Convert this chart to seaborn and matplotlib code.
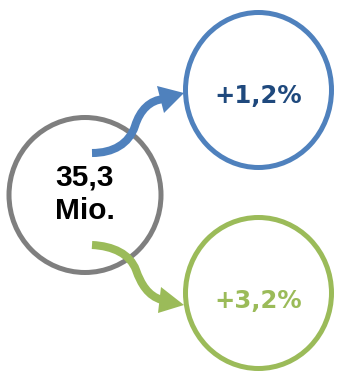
import numpy as np
import seaborn as sns
import matplotlib.pyplot as plt
from matplotlib.patches import Ellipse, PathPatch, Polygon
from matplotlib.path import Path

# data
total_value = 35.3
total_unit = "Mio."
growth_values = [1.2, 3.2]
growth_colors = ["#4F81BD", "#9BBB59"]
text_colors = ["#1F497D", "#9BBB59"]

def fmt_pct(v):
    return "+" + f"{v:.1f}".replace(".", ",") + "%"

sns.set_theme(style="white")
plt.rcParams["font.family"] = ["Liberation Sans", "DejaVu Sans"]
palette = sns.color_palette(growth_colors)

fig = plt.figure(figsize=(3.38, 3.71), dpi=100)
ax = fig.add_axes([0, 0, 1, 1])
ax.set_xlim(0, 338)
ax.set_ylim(371, 0)
ax.axis("off")

# layout (pixel space)
center_main = (85, 195)
size_main = (152, 155)
centers_out = [(258.5, 90), (258.5, 293)]
sizes_out = [(146, 155), (146, 151)]
text_y = [95, 300]

ax.add_patch(Ellipse(center_main, *size_main, fill=False, ec="#7F7F7F", lw=3.6))
ax.text(center_main[0], 178, f"{total_value:.1f}".replace(".", ","),
        ha="center", va="center", fontsize=21.5, fontweight="bold", color="black")
ax.text(center_main[0], 211, total_unit,
        ha="center", va="center", fontsize=21.5, fontweight="bold", color="black")

# arrow geometry
bodies = [
    [(92, 153), (113, 153), (129, 144), (135, 126), (140, 110), (150, 100), (164, 99)],
    [(92, 245), (113, 246), (130, 254), (136, 270), (141, 284), (148, 296), (162, 300)],
]
heads = [
    [(184, 93), (157, 86), (164, 113)],
    [(184, 305), (161, 287), (158, 313)],
]
codes = [Path.MOVETO] + [Path.CURVE4] * 6

for i, v in enumerate(growth_values):
    col = palette[i]
    ax.add_patch(Ellipse(centers_out[i], *sizes_out[i], fill=False, ec=col, lw=3.6))
    ax.add_patch(PathPatch(Path(bodies[i], codes), fill=False, ec=col, lw=5.8,
                           capstyle="butt"))
    ax.add_patch(Polygon(heads[i], closed=True, fc=col, ec="none"))
    ax.text(centers_out[i][0], text_y[i] + 1, fmt_pct(v),
            ha="center", va="center", fontsize=17.5, fontweight="bold",
            family="DejaVu Sans", color=text_colors[i])

fig.savefig("out.png", dpi=100)
